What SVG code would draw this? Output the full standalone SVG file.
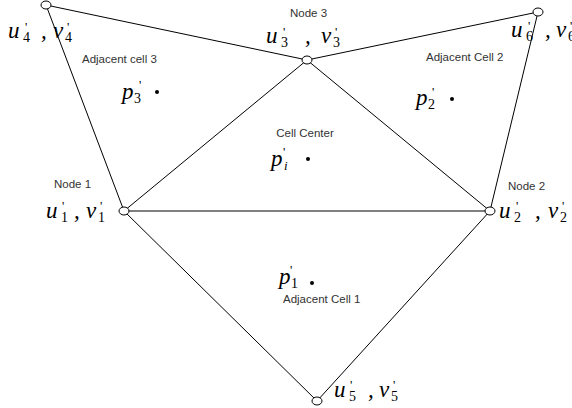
<svg xmlns="http://www.w3.org/2000/svg" width="572" height="408" viewBox="0 0 572 408">
<style>
.ln{stroke:#000;stroke-width:1;fill:none}
.nd{fill:#fff;stroke:#000;stroke-width:1}
.lbl{font-family:"Liberation Sans",Arial,sans-serif;font-size:11.5px;fill:#333}
.m{font-family:"Liberation Serif","Times New Roman",serif;font-size:23px;font-style:italic;fill:#000}
.s{font-family:"Liberation Serif","Times New Roman",serif;font-size:14px;font-style:normal;fill:#000}
.pr{font-family:"Liberation Serif","Times New Roman",serif;font-size:13px;font-style:normal;fill:#000}
.dot{fill:#000}
</style>
<rect width="572" height="408" fill="#fff"/>
<g id="connectors">
<line class="ln" x1="46" y1="5" x2="307" y2="60"/>
<line class="ln" x1="307" y1="60" x2="538" y2="12"/>
<line class="ln" x1="46" y1="5" x2="124" y2="211"/>
<line class="ln" x1="538" y1="12" x2="490" y2="211"/>
<line class="ln" x1="307" y1="60" x2="124" y2="211"/>
<line class="ln" x1="307" y1="60" x2="490" y2="211"/>
<line class="ln" x1="124" y1="211" x2="490" y2="211"/>
<line class="ln" x1="124" y1="211" x2="317" y2="401"/>
<line class="ln" x1="490" y1="211" x2="317" y2="401"/>
</g>
<g id="node4">
<ellipse class="nd" cx="46" cy="5" rx="5" ry="4"/>
<text class="m" x="8" y="38">u</text><text class="pr" x="25" y="31">'</text><text class="s" x="23" y="42">4</text>
<text class="m" x="41" y="38">,</text>
<text class="m" x="53" y="38">v</text><text class="pr" x="67" y="31">'</text><text class="s" x="65" y="42">4</text>
</g>
<g id="node3">
<ellipse class="nd" cx="307" cy="60" rx="5" ry="4"/>
<text class="lbl" x="290" y="17">Node 3</text>
<text class="m" x="266" y="43">u</text><text class="pr" x="283" y="36">'</text><text class="s" x="281" y="47">3</text>
<text class="m" x="305" y="43">,</text>
<text class="m" x="321" y="43">v</text><text class="pr" x="335" y="36">'</text><text class="s" x="333" y="47">3</text>
</g>
<g id="node6">
<ellipse class="nd" cx="538" cy="12" rx="5" ry="4"/>
<text class="m" x="511" y="37">u</text><text class="pr" x="528" y="30">'</text><text class="s" x="526" y="41">6</text>
<text class="m" x="545" y="37">,</text>
<text class="m" x="556" y="37">v</text><text class="pr" x="570" y="30">'</text><text class="s" x="568" y="41">6</text>
</g>
<g id="node1">
<ellipse class="nd" cx="124" cy="211" rx="5" ry="4"/>
<text class="lbl" x="54" y="188">Node 1</text>
<text class="m" x="46" y="218">u</text><text class="pr" x="62" y="210">'</text><text class="s" x="61" y="222">1</text>
<text class="m" x="74" y="218">,</text>
<text class="m" x="86" y="218">v</text><text class="pr" x="100" y="210">'</text><text class="s" x="98" y="222">1</text>
</g>
<g id="node2">
<ellipse class="nd" cx="490" cy="211" rx="5" ry="4"/>
<text class="lbl" x="508" y="190">Node 2</text>
<text class="m" x="499" y="218">u</text><text class="pr" x="516" y="210">'</text><text class="s" x="514" y="222">2</text>
<text class="m" x="535" y="218">,</text>
<text class="m" x="548" y="218">v</text><text class="pr" x="562" y="210">'</text><text class="s" x="560" y="222">2</text>
</g>
<g id="node5">
<ellipse class="nd" cx="317" cy="401" rx="5" ry="4"/>
<text class="m" x="334" y="397">u</text><text class="pr" x="350" y="389">'</text><text class="s" x="349" y="401">5</text>
<text class="m" x="368" y="397">,</text>
<text class="m" x="379" y="397">v</text><text class="pr" x="393" y="389">'</text><text class="s" x="391" y="401">5</text>
</g>
<g id="cell3">
<text class="lbl" x="82" y="63">Adjacent cell 3</text>
<text class="m" x="122" y="99">p</text><text class="pr" x="139" y="89">'</text><text class="s" x="134" y="103">3</text>
<circle class="dot" cx="157" cy="92" r="2"/>
</g>
<g id="cell2">
<text class="lbl" x="426" y="61">Adjacent Cell 2</text>
<text class="m" x="416" y="105">p</text><text class="pr" x="432" y="96">'</text><text class="s" x="428" y="109">2</text>
<circle class="dot" cx="452" cy="99" r="2"/>
</g>
<g id="cellcenter">
<text class="lbl" x="305" y="137" text-anchor="middle">Cell Center</text>
<text class="m" x="271" y="166">p</text><text class="pr" x="283" y="156">'</text><text class="m" x="284" y="170" style="font-size:13px">i</text>
<circle class="dot" cx="308" cy="159" r="2"/>
</g>
<g id="cell1">
<text class="lbl" x="283" y="303">Adjacent Cell 1</text>
<text class="m" x="279" y="284">p</text><text class="pr" x="290" y="274">'</text><text class="s" x="291" y="288">1</text>
<circle class="dot" cx="312" cy="283" r="2"/>
</g>
</svg>
